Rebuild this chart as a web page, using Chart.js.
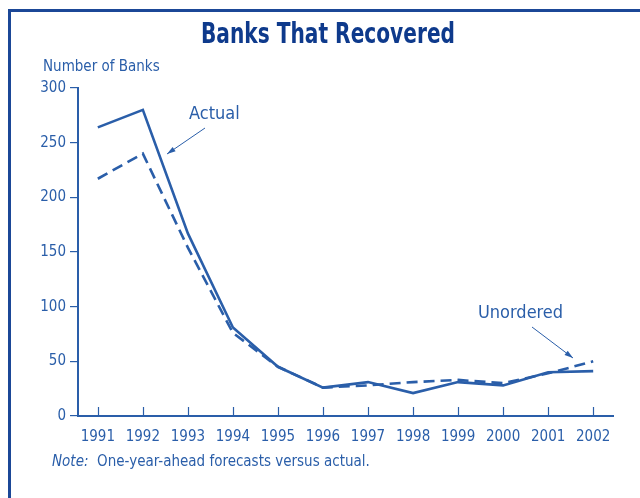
<!DOCTYPE html>
<html lang="en">
<head>
  <meta charset="utf-8">
  <title>Banks That Recovered</title>
  <style>
    html, body { margin: 0; padding: 0; background: #fff; }
    #wrap { width: 640px; height: 498px; position: relative; }
  </style>
</head>
<body>
  <div id="wrap"><canvas id="chart" width="640" height="498"></canvas></div>
  <script src="https://cdn.jsdelivr.net/npm/chart.js"></script>
  <script>
    var years = [1991, 1992, 1993, 1994, 1995, 1996, 1997, 1998, 1999, 2000, 2001, 2002];
    var actual = [264, 280, 167, 81, 45, 26, 31, 21, 31, 28, 40, 41];
    var forecast = [217, 240, 154, 76, 45, 26, 28, 31, 33, 30, 39, 50];
    var yTicks = [0, 50, 100, 150, 200, 250, 300];

    var FONT = "'Liberation Sans Narrow', 'DejaVu Sans Condensed', sans-serif";
    var BLUE = '#2a5ea9';
    var DARK = '#0e3a8c';

    // frame, title, axis label, note, annotations and inward x ticks
    var decor = {
      id: 'decor',
      beforeDraw: function (chart) {
        var c = chart.ctx;
        c.save();
        c.strokeStyle = '#1b4797';
        c.lineWidth = 3;
        c.beginPath();
        c.moveTo(9.5, 498);
        c.lineTo(9.5, 10.5);
        c.lineTo(640, 10.5);
        c.stroke();
        c.restore();
      },
      afterDraw: function (chart) {
        var c = chart.ctx;
        var x = chart.scales.x;
        c.save();
        // title, squeezed to the condensed look of the original
        c.fillStyle = DARK;
        c.textAlign = 'center';
        c.textBaseline = 'alphabetic';
        c.font = 'bold 29px ' + FONT;
        var tw = c.measureText('Banks That Recovered').width;
        var sx = Math.min(1, 254 / tw);
        c.save();
        c.translate(328, 43);
        c.scale(sx, 1);
        c.fillText('Banks That Recovered', 0, 0);
        c.restore();

        c.fillStyle = BLUE;
        c.textAlign = 'left';
        c.textBaseline = 'middle';
        c.font = '15px ' + FONT;
        c.fillText('Number of Banks', 43, 67);

        c.font = 'italic 15px ' + FONT;
        c.fillText('Note:', 52, 462);
        var w = c.measureText('Note:  ').width;
        c.font = '15px ' + FONT;
        c.fillText('One-year-ahead forecasts versus actual.', 52 + w, 462);

        // x ticks pointing up
        c.strokeStyle = BLUE;
        c.lineWidth = 1.2;
        years.forEach(function (yr) {
          var px = Math.round(x.getPixelForValue(yr)) + 0.5;
          c.beginPath();
          c.moveTo(px, chart.chartArea.bottom);
          c.lineTo(px, chart.chartArea.bottom - 9);
          c.stroke();
        });

        // annotations
        c.font = '18px ' + FONT;
        c.fillText('Actual', 189, 114);
        c.fillText('Unordered', 478, 313);
        arrow(c, 205, 128, 167, 154);
        arrow(c, 532, 327, 573, 358);
        c.restore();
      }
    };

    function arrow(c, x1, y1, x2, y2) {
      c.strokeStyle = BLUE;
      c.fillStyle = BLUE;
      c.lineWidth = 1;
      c.beginPath();
      c.moveTo(x1, y1);
      c.lineTo(x2, y2);
      c.stroke();
      var a = Math.atan2(y2 - y1, x2 - x1);
      c.beginPath();
      c.moveTo(x2, y2);
      c.lineTo(x2 - 9 * Math.cos(a - 0.3), y2 - 9 * Math.sin(a - 0.3));
      c.lineTo(x2 - 9 * Math.cos(a + 0.3), y2 - 9 * Math.sin(a + 0.3));
      c.closePath();
      c.fill();
    }

    new Chart(document.getElementById('chart'), {
      type: 'line',
      data: {
        datasets: [
          {
            label: 'Actual',
            data: years.map(function (yr, i) { return { x: yr, y: actual[i] }; }),
            borderColor: BLUE,
            borderWidth: 2.6,
            pointRadius: 0,
            tension: 0,
            fill: false
          },
          {
            label: 'Unordered',
            data: years.map(function (yr, i) { return { x: yr, y: forecast[i] }; }),
            borderColor: BLUE,
            borderWidth: 2.6,
            borderDash: [11, 6],
            pointRadius: 0,
            tension: 0,
            fill: false
          }
        ]
      },
      options: {
        responsive: false,
        animation: false,
        layout: { padding: { left: 0, top: 88, right: 27, bottom: 0 } },
        plugins: { legend: { display: false }, tooltip: { enabled: false }, title: { display: false } },
        scales: {
          x: {
            type: 'linear',
            min: 1990.56,
            max: 2002.44,
            afterBuildTicks: function (s) { s.ticks = years.map(function (v) { return { value: v }; }); },
            afterFit: function (s) { s.height = 82; },
            grid: { display: false, drawTicks: false },
            border: { color: BLUE, width: 2 },
            ticks: {
              padding: 12,
              color: BLUE,
              font: { family: FONT, size: 15 },
              maxRotation: 0,
              autoSkip: false,
              callback: function (v) { return String(v); }
            }
          },
          y: {
            min: 0,
            max: 300,
            afterBuildTicks: function (s) { s.ticks = yTicks.map(function (v) { return { value: v }; }); },
            afterFit: function (s) { s.width = 78; },
            grid: { drawOnChartArea: false, drawTicks: true, tickLength: 8, color: BLUE, lineWidth: 1.2 },
            border: { color: BLUE, width: 2 },
            ticks: {
              padding: 4,
              color: BLUE,
              font: { family: FONT, size: 15 }
            }
          }
        }
      },
      plugins: [decor]
    });
  </script>
</body>
</html>
